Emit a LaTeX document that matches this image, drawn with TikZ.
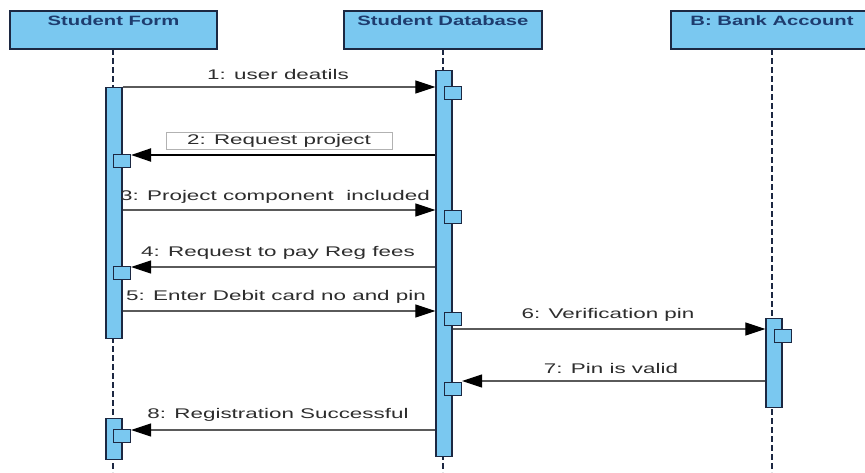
\documentclass[tikz,border=0pt]{standalone}
\usepackage{fontspec}
\setmainfont{Liberation Sans}
\newfontfamily\headsans[FakeStretch=1.5]{Liberation Sans}
\newfontfamily\labelsans[FakeStretch=1.6]{Liberation Sans}
\usetikzlibrary{arrows.meta}
\definecolor{actfill}{RGB}{122,200,240}
\definecolor{actedge}{RGB}{28,40,66}
\definecolor{headtext}{RGB}{30,60,110}
\definecolor{msgtext}{RGB}{45,45,45}
\definecolor{msgline}{RGB}{90,90,90}
\tikzset{
  header/.style={draw=actedge, line width=1.3pt, fill=actfill, minimum height=38pt,
    inner xsep=0pt, inner ysep=2pt, text height=12pt, text depth=22pt,
    text=headtext, font=\headsans\bfseries\fontsize{13.5}{13.5}\selectfont},
  lifeline/.style={draw=actedge, line width=1.4pt, dash pattern=on 6pt off 3pt},
  actbar/.style={draw=actedge, line width=1.3pt, fill=actfill, minimum width=16pt, inner sep=0pt},
  selfbox/.style={draw=actedge, line width=1.1pt, fill=actfill, minimum width=17pt, minimum height=13pt, inner sep=0pt},
  tip/.style={-{Triangle[length=20pt,width=13pt,color=black]}},
  msg/.style={draw=msgline, line width=1.2pt, tip},
  msgdark/.style={draw=black, line width=2.2pt, tip},
  mlabel/.style={text=msgtext, font=\labelsans\fontsize{14}{14}\selectfont, inner sep=1pt},
}
\begin{document}
\begin{tikzpicture}[x=1pt, y=-1pt]
\useasboundingbox[fill=white] (0,0) rectangle (865,472);

% lifelines
\draw[lifeline] (113,49) -- (113,472);
\draw[lifeline] (443,49) -- (443,472);
\draw[lifeline] (772,49) -- (772,472);

% participant heads
\node[header, minimum width=207pt] (sf) at (113.5,30) {Student Form};
\node[header, minimum width=198pt] (db) at (443,30) {Student Database};
\node[header, minimum width=202pt] (bk) at (772,30) {B: Bank Account};

% activation bars
\node[actbar, minimum height=251pt, anchor=north] (sfA) at (114,87) {};
\node[actbar, minimum height=41pt, anchor=north] (sfB) at (114,418) {};
\node[actbar, minimum height=386pt, anchor=north] (dbA) at (444,70) {};
\node[actbar, minimum height=89pt, anchor=north] (bkA) at (774,318) {};

% nested activations
\node[selfbox, anchor=north west] (db1) at (444,86) {};
\node[selfbox, anchor=north west] (sf2) at (113,154) {};
\node[selfbox, anchor=north west] (db3) at (444,210) {};
\node[selfbox, anchor=north west] (sf4) at (113,266) {};
\node[selfbox, anchor=north west] (db5) at (444,312) {};
\node[selfbox, anchor=north west] (bk6) at (774,329) {};
\node[selfbox, anchor=north west] (db7) at (444,382) {};
\node[selfbox, anchor=north west] (sf8) at (113,429) {};

% message rows
\coordinate (r1) at (0,87);
\coordinate (r2) at (0,155);
\coordinate (r3) at (0,210);
\coordinate (r4) at (0,267);
\coordinate (r5) at (0,311);
\coordinate (r6) at (0,329);
\coordinate (r7) at (0,381);
\coordinate (r8) at (0,430);

% messages
\draw[msg] (sfA.east |- r1) -- (dbA.west |- r1);
\draw[msgdark] (dbA.west |- r2) -- (sf2.east |- r2);
\draw[msg] (sfA.east |- r3) -- (dbA.west |- r3);
\draw[msg] (dbA.west |- r4) -- (sf4.east |- r4);
\draw[msg] (sfA.east |- r5) -- (dbA.west |- r5);
\draw[msg] (dbA.east |- r6) -- (bkA.west |- r6);
\draw[msg] (bkA.west |- r7) -- (db7.east |- r7);
\draw[msg] (dbA.west |- r8) -- (sf8.east |- r8);

% message labels
\node[mlabel] (l1) at (278,74) {1: user deatils};
\node[draw=gray!60, line width=0.8pt, fill=white, minimum width=226pt, minimum height=17pt, inner sep=0pt,
      text=msgtext, font=\labelsans\fontsize{14}{14}\selectfont] (l2) at (279,140.5) {2: Request project};
\node[mlabel] (l3) at (275,197) {3: Project component\ \ included};
\node[mlabel] (l4) at (278,253) {4: Request to pay Reg fees};
\node[mlabel] (l5) at (276,297) {5: Enter Debit card no and pin};
\node[mlabel] (l6) at (608,315) {6: Verification pin};
\node[mlabel] (l7) at (611,368) {7: Pin is valid};
\node[mlabel] (l8) at (278,415) {8: Registration Successful};
\end{tikzpicture}
\end{document}
